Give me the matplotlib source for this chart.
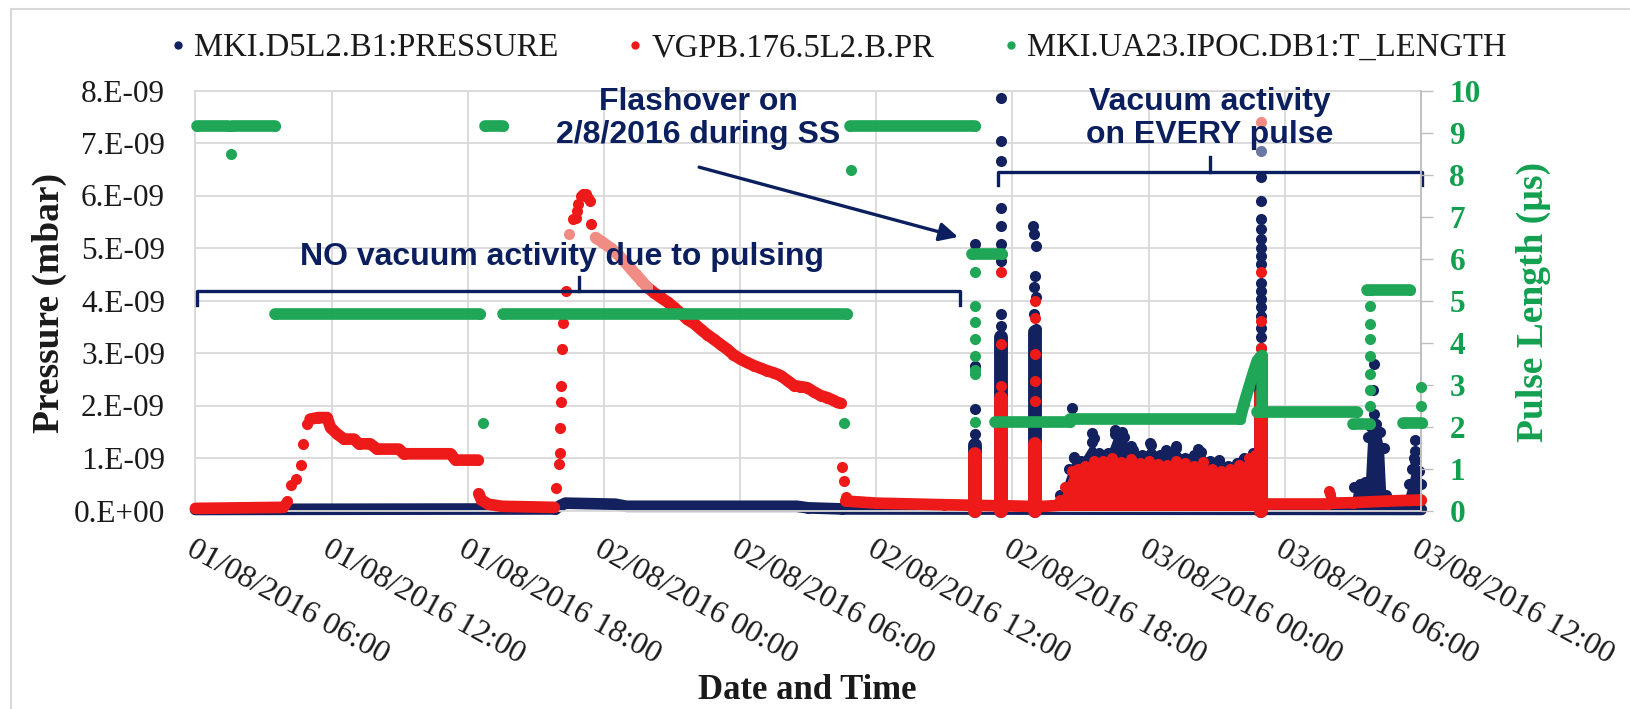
"""
MKI kicker vacuum and pulse length, 01/08/2016 06:00 - 03/08/2016 12:00.
Pressure of the two gauges on the left axis, IPOC pulse length on the right.
"""

from datetime import datetime

import matplotlib
matplotlib.use("Agg")
import matplotlib.dates as mdates
import matplotlib.pyplot as plt
import numpy as np
from matplotlib.lines import Line2D
from matplotlib.patches import Rectangle
from matplotlib.ticker import FuncFormatter, MultipleLocator

START = datetime(2016, 8, 1, 6, 0)
END = datetime(2016, 8, 3, 12, 0)
E9 = 1e-9

NAVY = "#13215E"
PALE_NAVY = "#6B78A3"
RED = "#EE1A1A"
PALE_RED = "#F08C84"
GREEN = "#1FA656"
GREEN_TXT = "#12A04F"
TXT_NAVY = "#0B1F5E"
GRID = "#D9D9D9"
SERIF = "Liberation Serif"
SANS = "Liberation Sans"
DOT = 8.0   # marker diameter, pt
LINE = 8.4  # width of the runs of overlapping samples, pt

# times: hours after 01/08/2016 06:00 | pressure: 1e-9 mbar | pulse length: us

# ---- MKI.D5L2.B1:PRESSURE ----
NAVY_BASE_T = [0.0, 15.85, 16.10, 16.30, 18.50, 19.00, 26.50, 27.00, 28.50, 54.00]
NAVY_BASE_P = [0.02, 0.03, 0.10, 0.14, 0.12, 0.08, 0.08, 0.05, 0.03, 0.02]

NAVY_BAR_T = [34.33, 35.48, 37.00, 46.94]
NAVY_BAR_P = [1.25, 3.30, 3.40, 2.90]

NAVY_DOT_T = ([34.33] * 4
              + [35.48] * 12
              + [36.90, 36.95, 37.05, 37.00, 36.95, 37.05, 36.95, 37.05, 37.00, 36.95, 37.05, 37.00]
              + [46.94] * 19
              + [38.62, 38.70, 39.50, 39.59, 40.50, 40.84, 41.23, 42.06, 42.76, 43.21, 44.16, 45.10, 46.14]
              + [51.93, 51.90, 51.95, 53.74, 53.72, 53.68])
NAVY_DOT_P = ([5.07, 2.76, 1.93, 1.45]
              + [7.86, 7.03, 6.65, 5.77, 5.42, 5.07, 4.75, 3.74, 3.52, 3.20, 2.90, 2.60]
              + [5.42, 5.26, 5.04, 4.47, 4.25, 4.06, 3.74, 3.45, 3.20, 2.90, 2.60, 2.30]
              + [6.35, 5.89, 5.56, 5.36, 5.17, 5.00, 4.85, 4.70, 4.34, 4.18, 4.02, 3.87,
                 3.70, 3.48, 3.30, 3.10, 2.91, 2.70, 2.50]
              + [1.95, 1.02, 1.47, 1.39, 1.53, 1.49, 1.22, 1.28, 1.15, 1.22, 1.18, 0.96, 0.96]
              + [2.79, 2.30, 1.84, 1.34, 1.14, 1.00])
NAVY_FADED_T = [46.94]
NAVY_FADED_P = [6.84]

NAVY_DENSE_T = [38.10, 38.50, 38.70, 39.00, 39.50, 39.80, 40.20, 40.50, 40.90, 41.30, 41.70, 42.10,
                42.50, 42.80, 43.20, 43.60, 44.00, 44.30, 44.70, 45.10, 45.50, 45.90, 46.20, 46.60]
NAVY_DENSE_P = [0.30, 0.80, 1.00, 0.95, 1.30, 1.10, 1.10, 1.45, 1.40, 1.15, 1.05, 1.25,
                1.05, 1.10, 1.20, 1.00, 1.05, 1.12, 0.95, 0.95, 0.85, 0.90, 1.00, 1.10]

NAVY_LATE_T = [50.90, 51.05, 51.30, 51.55, 51.65, 51.80, 52.00, 52.20, 52.35, 52.45, 52.60]
NAVY_LATE_P = [0.05, 0.45, 0.50, 0.55, 1.40, 1.60, 1.65, 1.50, 1.20, 0.30, 0.05]
NAVY_END_T = [53.25, 53.45, 53.60, 53.75, 53.90, 54.00]
NAVY_END_P = [0.20, 0.50, 0.80, 0.95, 0.75, 0.50]

# ---- VGPB.176.5L2.B.PR ----
RED_LINE_T = [
    [0.0, 3.85],
    [5.05, 5.40, 5.80, 5.95, 6.24, 6.54, 6.98, 7.20, 7.70, 8.00, 8.96, 9.18, 11.24, 11.46, 12.45],
    [12.48, 12.60, 12.90, 13.50, 15.80],
    [19.91, 20.20, 20.49, 20.80, 21.08, 21.40, 21.67, 22.00, 22.26, 22.55, 22.84, 23.15, 23.43,
     23.70, 24.02, 24.30, 24.60, 24.90, 25.20, 25.50, 25.78, 26.10, 26.37, 26.65, 26.95, 27.25,
     27.54, 27.84, 28.10, 28.28, 28.43],
    [28.65, 30.00, 33.00, 34.20, 35.30, 35.70, 36.60, 37.40, 38.10],
    [47.20, 49.90],
    [50.10, 51.00, 52.50, 54.00],
]
RED_LINE_P = [
    [0.04, 0.06],
    [1.74, 1.77, 1.77, 1.58, 1.46, 1.36, 1.36, 1.27, 1.27, 1.17, 1.17, 1.08, 1.08, 0.96, 0.96],
    [0.32, 0.20, 0.12, 0.08, 0.06],
    [4.25, 4.15, 4.06, 3.97, 3.87, 3.75, 3.64, 3.55, 3.45, 3.35, 3.26, 3.16, 3.07,
     2.97, 2.88, 2.82, 2.76, 2.71, 2.66, 2.62, 2.57, 2.47, 2.38, 2.36, 2.34, 2.26,
     2.19, 2.15, 2.10, 2.06, 2.04],
    [0.18, 0.14, 0.11, 0.10, 0.09, 0.09, 0.08, 0.08, 0.10],
    [0.13, 0.13],
    [0.14, 0.15, 0.18, 0.20],
]

RED_DOT_T = ([3.95, 4.04, 4.19, 4.45, 4.63, 4.75, 4.92]
             + [15.87, 16.01, 16.06, 16.06, 16.09, 16.12, 16.16, 16.20, 16.31]
             + [16.62, 16.75, 16.79, 16.85, 16.97, 17.08, 17.19, 17.30, 17.38, 17.41]
             + [28.50, 28.57, 28.65]
             + [35.50, 35.48, 35.48, 37.00, 37.00, 37.00, 37.00, 37.00, 46.94, 46.94, 46.94]
             + [49.95, 50.00, 50.05])
RED_DOT_P = ([0.12, 0.19, 0.48, 0.60, 0.86, 1.27, 1.65]
             + [0.43, 0.89, 1.09, 1.58, 2.06, 2.38, 3.07, 3.58, 4.18]
             + [5.55, 5.58, 5.70, 5.83, 5.99, 6.02, 6.02, 5.96, 5.89, 5.46]
             + [0.82, 0.57, 0.25]
             + [4.55, 3.17, 2.38, 3.99, 3.67, 2.98, 2.47, 2.09, 4.55, 3.61, 3.10]
             + [0.38, 0.32, 0.22])

RED_FADED_T = [16.46, 17.63, 17.90, 18.29, 18.60, 18.88, 19.15, 19.39, 19.65, 19.91, 46.94]
RED_FADED_P = [5.26, 5.20, 5.12, 5.00, 4.88, 4.75, 4.62, 4.50, 4.38, 4.25, 7.40]

RED_BAR_T = [34.33, 35.48, 37.00, 46.94]
RED_BAR_P = [1.08, 2.15, 1.27, 2.22]

RED_DENSE_T = [38.10, 38.30, 38.60, 38.90, 39.20, 39.60, 40.00, 40.40, 40.80, 41.20, 41.60, 42.00,
               42.40, 42.80, 43.20, 43.60, 44.00, 44.40, 44.80, 45.20, 45.60, 46.00, 46.40, 46.70]
RED_DENSE_P = [0.20, 0.45, 0.75, 0.80, 0.85, 0.95, 0.95, 1.00, 0.92, 0.98, 0.90, 0.95,
               0.88, 0.86, 0.95, 0.90, 0.84, 0.92, 0.80, 0.76, 0.80, 0.86, 1.00, 1.05]

# ---- MKI.UA23.IPOC.DB1:T_LENGTH ----
PL_LEVEL_T0 = [0.05, 1.61, 3.50, 12.76, 13.55, 28.85, 34.21, 35.24, 38.54, 46.77, 51.02, 51.62, 53.21]
PL_LEVEL_T1 = [1.43, 3.50, 12.54, 13.55, 28.71, 34.35, 35.53, 38.54, 46.03, 51.18, 51.77, 53.53, 54.05]
PL_LEVEL_V = [9.15, 9.15, 4.68, 9.15, 4.68, 9.15, 6.11, 2.10, 2.18, 2.34, 2.06, 5.24, 2.08]

PL_RAMP_T = [46.03, 46.20, 46.42, 46.64, 46.79, 47.00, 47.00]
PL_RAMP_V = [2.18, 2.54, 2.94, 3.33, 3.57, 3.69, 2.34]

PL_DOT_T = ([1.57, 12.68, 28.57, 28.87]
            + [34.33] * 8
            + [51.75] * 8
            + [54.00, 54.00])
PL_DOT_V = ([8.49, 2.08, 2.08, 8.10]
            + [5.67, 4.88, 4.48, 4.09, 3.69, 3.35, 3.25, 2.10]
            + [5.24, 4.88, 4.44, 4.09, 3.69, 3.25, 2.86, 2.50]
            + [2.94, 2.50])

LEGEND_LABELS = ["MKI.D5L2.B1:PRESSURE", "VGPB.176.5L2.B.PR", "MKI.UA23.IPOC.DB1:T_LENGTH"]


def hx(hours):
    return mdates.date2num(START) + np.asarray(hours, dtype=float) / 24.0


def dots(ax, t, v, color, scale=1.0, zorder=3):
    ax.plot(hx(t), np.asarray(v) * scale, ls="none", marker="o", ms=DOT, mec="none",
            color=color, clip_on=False, zorder=zorder)


def trace(ax, t, v, color, scale=1.0, zorder=3):
    ax.plot(hx(t), np.asarray(v) * scale, lw=LINE, color=color, solid_capstyle="round",
            solid_joinstyle="round", clip_on=False, zorder=zorder)
    dots(ax, t, v, color, scale, zorder)


def band(ax, t, v, color, scale=1.0, zorder=3):
    ax.fill_between(hx(t), 0, np.asarray(v) * scale, color=color, lw=0, zorder=zorder)
    dots(ax, t, v, color, scale, zorder)


def bars(ax, t, v, color, scale=1.0, zorder=3):
    ax.vlines(hx(t), 0, np.asarray(v) * scale, colors=color, lw=10, capstyle="round",
              clip_on=False, zorder=zorder)


def main() -> None:
    fig = plt.figure(figsize=(16.31, 7.09), dpi=100)
    ax = fig.add_axes([195.5 / 1631, 1 - 510.5 / 709, 1225.5 / 1631, 420 / 709])
    ax2 = ax.twinx()

    # pressure gauges, navy under red
    trace(ax, NAVY_BASE_T, NAVY_BASE_P, NAVY, E9, 2)
    band(ax, NAVY_DENSE_T, NAVY_DENSE_P, NAVY, E9, 2)
    band(ax, NAVY_LATE_T, NAVY_LATE_P, NAVY, E9, 2)
    band(ax, NAVY_END_T, NAVY_END_P, NAVY, E9, 2)
    bars(ax, NAVY_BAR_T, NAVY_BAR_P, NAVY, E9, 2)
    dots(ax, NAVY_DOT_T, NAVY_DOT_P, NAVY, E9, 2)
    dots(ax, NAVY_FADED_T, NAVY_FADED_P, PALE_NAVY, E9, 2)

    for t, p in zip(RED_LINE_T, RED_LINE_P):
        trace(ax, t, p, RED, E9, 3)
    band(ax, RED_DENSE_T, RED_DENSE_P, RED, E9, 3)
    bars(ax, RED_BAR_T, RED_BAR_P, RED, E9, 3)
    dots(ax, RED_DOT_T, RED_DOT_P, RED, E9, 3)
    trace(ax, RED_FADED_T[1:-1], RED_FADED_P[1:-1], PALE_RED, E9, 3)
    dots(ax, RED_FADED_T, RED_FADED_P, PALE_RED, E9, 3)

    # pulse length on the secondary axis
    for t0, t1, v in zip(PL_LEVEL_T0, PL_LEVEL_T1, PL_LEVEL_V):
        trace(ax2, [t0, t1], [v, v], GREEN)
    trace(ax2, PL_RAMP_T, PL_RAMP_V, GREEN)
    dots(ax2, PL_DOT_T, PL_DOT_V, GREEN)

    # axes
    ax.set_xlim(START, END)
    ax.set_ylim(0, 8 * E9)
    ax.xaxis.set_major_locator(mdates.HourLocator(byhour=[0, 6, 12, 18]))
    ax.xaxis.set_major_formatter(mdates.DateFormatter("%d/%m/%Y %H:%M"))
    ax.yaxis.set_major_locator(MultipleLocator(E9))
    ax.yaxis.set_major_formatter(FuncFormatter(lambda v, _: "%#.0E" % v))
    ax.grid(True, color=GRID, lw=1.3)
    ax.set_axisbelow(True)
    for s in ax.spines.values():
        s.set_color(GRID)
        s.set_linewidth(1.3)
    ax.tick_params(axis="y", length=0, pad=22, labelsize=22.5, labelcolor="#1a1a1a")
    ax.tick_params(axis="x", length=0, pad=17.5, labelsize=23, labelcolor="#1a1a1a",
                   labelrotation=-29)
    for lab in ax.get_xticklabels() + ax.get_yticklabels():
        lab.set_family(SERIF)
    plt.setp(ax.get_xticklabels(), ha="left", va="top", rotation_mode="anchor")

    ax2.set_ylim(0, 10)
    ax2.yaxis.set_major_locator(MultipleLocator(1))
    ax2.tick_params(axis="y", direction="out", length=8.5, width=1, color="#BFBFBF",
                    pad=12, labelsize=22.5, labelcolor=GREEN_TXT)
    for lab in ax2.get_yticklabels():
        lab.set_family(SERIF)
        lab.set_fontweight("bold")
    for name, s in ax2.spines.items():
        s.set_visible(name == "right")
    ax2.spines["right"].set_color("#BFBFBF")
    ax2.spines["right"].set_linewidth(1.3)

    ax.set_xlabel("Date and Time", family=SERIF, fontsize=25, fontweight="bold", color="#1a1a1a")
    ax.xaxis.set_label_coords(0.499, -0.4274)
    ax.xaxis.label.set_va("center")
    ax.set_ylabel("Pressure (mbar)", family=SERIF, fontsize=27, fontweight="bold", color="#1a1a1a")
    ax.yaxis.set_label_coords(-0.1195, 0.494)
    ax.yaxis.label.set_va("center")
    ax2.set_ylabel("Pulse Length (µs)", family=SERIF, fontsize=27, fontweight="bold",
                   color=GREEN_TXT, rotation=90)
    ax2.yaxis.set_label_coords(1.0914, 0.496)
    ax2.yaxis.label.set_va("center")

    # annotations
    ann = dict(family=SANS, fontsize=23, fontweight="bold", color=TXT_NAVY, ha="center",
               va="center", zorder=10, linespacing=1.12)
    ax.text(hx(22.15), 7.47 * E9, "Flashover on\n2/8/2016 during SS", **ann)
    ax.text(hx(44.70), 7.46 * E9, "Vacuum activity\non EVERY pulse", **ann)
    ax.text(hx(16.15), 4.83 * E9, "NO vacuum activity due to pulsing", **ann)
    ax.annotate("", xy=(hx(33.6), 5.21 * E9), xytext=(hx(22.19), 6.54 * E9),
                arrowprops=dict(arrowstyle="-|>", lw=2.4, color=TXT_NAVY, mutation_scale=28,
                                shrinkA=0, shrinkB=0), zorder=10)
    brace = dict(color=TXT_NAVY, lw=2.4, solid_joinstyle="round", clip_on=False, zorder=10)
    ax.plot(hx([0.07, 0.07, 33.69, 33.69]), np.array([3.91, 4.18, 4.18, 3.91]) * E9, **brace)
    ax.plot(hx([16.9, 16.9]), np.array([4.18, 4.45]) * E9, **brace)
    ax.plot(hx([35.37, 35.37, 54.06, 54.06]), np.array([6.20, 6.45, 6.45, 6.20]) * E9, **brace)
    ax.plot(hx([44.71, 44.71]), np.array([6.45, 6.73]) * E9, **brace)

    # legend across the top
    handles = [Line2D([], [], ls="none", marker="o", ms=6, mec="none", color=c)
               for c in (NAVY, RED, GREEN)]
    leg = fig.legend(handles, LEGEND_LABELS, loc="center", bbox_to_anchor=(838 / 1631, 1 - 48 / 709),
                     ncol=3, frameon=False, prop=dict(family=SERIF, size=23.5),
                     handlelength=0.5, handletextpad=0.25, columnspacing=2.1,
                     borderpad=0, borderaxespad=0)
    for txt in leg.get_texts():
        txt.set_color("#1a1a1a")

    # chart area border
    fig.add_artist(Rectangle((11 / 1631, -0.1), 1.2, 1.1 - 9 / 709, transform=fig.transFigure,
                             fill=False, edgecolor=GRID, lw=1.5))

    fig.savefig("out.png", dpi=100)
    plt.close(fig)


if __name__ == "__main__":
    main()
